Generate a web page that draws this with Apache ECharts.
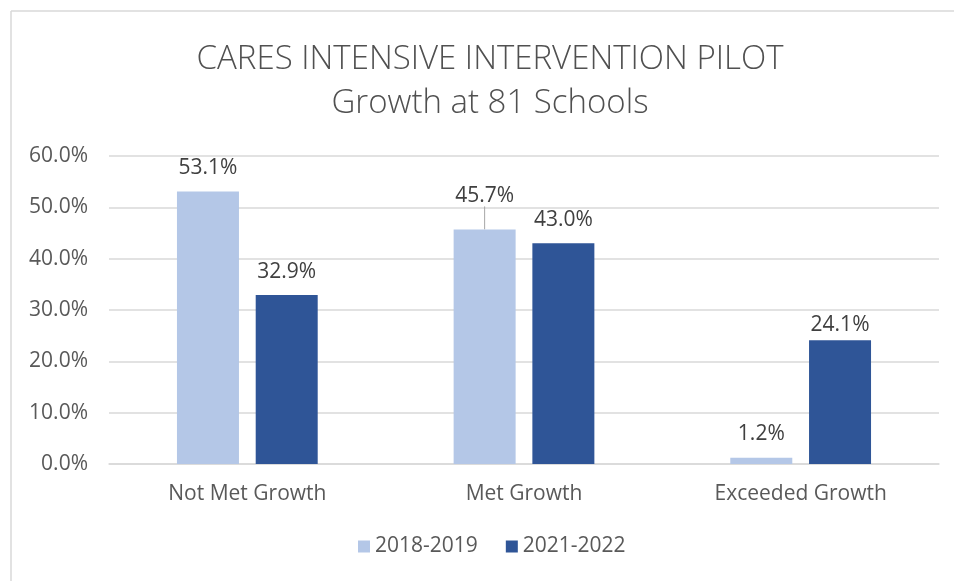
<!DOCTYPE html>
<html><head><meta charset="utf-8">
<script src="https://cdn.jsdelivr.net/npm/echarts@6/dist/echarts.min.js"></script>
<style>html,body{margin:0;padding:0;background:#fff}#c{width:954px;height:581px}</style>
</head><body><div id="c"></div>
<script>
const categories = ['Not Met Growth', 'Met Growth', 'Exceeded Growth'];
const seriesNames = ['2018-2019', '2021-2022'];
const values2018 = [53.1, 45.7, 1.2];
const values2022 = [32.9, 43.0, 24.1];
const yTicks = [0, 10, 20, 30, 40, 50, 60];

const FONT = "'Open Sans', sans-serif";
const FS = 21;
const chart = echarts.init(document.getElementById('c'));
const labelCommon = {
  show: true, position: 'top', distance: 13,
  color: '#404040', fontSize: FS, fontFamily: FONT,
  formatter: p => p.value.toFixed(1) + '%'
};
chart.setOption({
  animation: false,
  textStyle: { fontFamily: FONT },
  title: {
    text: 'CARES INTENSIVE INTERVENTION PILOT\nGrowth at 81 Schools',
    left: 490, top: 38, padding: 0, textAlign: 'center',
    textStyle: { fontSize: 33, fontWeight: 300, color: '#505050', lineHeight: 44, fontFamily: FONT }
  },
  graphic: [
    { type: 'line', shape: { x1: 11, y1: 11, x2: 954, y2: 11 }, style: { stroke: '#d9d9d9', lineWidth: 1.5 } },
    { type: 'line', shape: { x1: 11, y1: 11, x2: 11, y2: 581 }, style: { stroke: '#d9d9d9', lineWidth: 1.5 } }
  ],
  legend: {
    data: seriesNames, bottom: 19, left: 353,
    itemWidth: 12, itemHeight: 12, itemGap: 28, icon: 'rect',
    textStyle: { color: '#595959', fontSize: FS, fontFamily: FONT }
  },
  grid: { left: 109, right: 15, top: 156, bottom: 117, containLabel: false },
  xAxis: {
    type: 'category', data: categories,
    axisLine: { show: true, lineStyle: { color: '#d9d9d9', width: 1.5 } },
    axisTick: { show: false },
    axisLabel: { color: '#595959', fontSize: FS, margin: 20, fontFamily: FONT }
  },
  yAxis: {
    type: 'value', min: yTicks[0], max: yTicks[yTicks.length - 1], interval: 10,
    axisLine: { show: false }, axisTick: { show: false },
    splitLine: { lineStyle: { color: '#d9d9d9', width: 1.5 } },
    axisLabel: { color: '#595959', fontSize: FS, margin: 21, fontFamily: FONT, formatter: v => v.toFixed(1) + '%' }
  },
  series: [
    {
      name: seriesNames[0], type: 'bar', barWidth: 62, barGap: '27%',
      data: values2018.map((v, i) => i === 1
        ? { value: v, labelLine: { show: true, lineStyle: { color: '#a6a6a6', width: 1 } } }
        : { value: v, labelLine: { show: false } }),
      itemStyle: { color: '#B4C7E7' },
      label: labelCommon,
      labelLayout: p => p.dataIndex === 1 ? { dy: -10 } : {}
    },
    {
      name: seriesNames[1], type: 'bar', data: values2022, barWidth: 62,
      itemStyle: { color: '#2F5597' },
      label: labelCommon,
      labelLayout: p => p.dataIndex === 2 ? { dy: 8 } : {}
    }
  ]
});
</script></body></html>
